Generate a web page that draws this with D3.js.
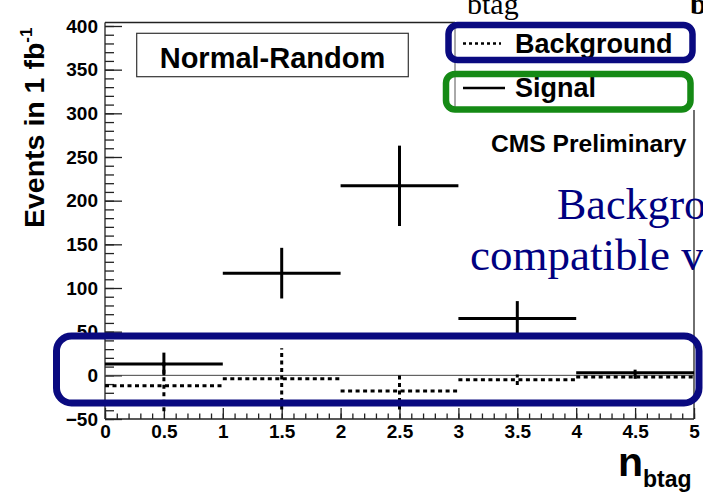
<!DOCTYPE html>
<html lang="en">
<head>
<meta charset="utf-8">
<title>n_btag Normal-Random</title>
<script src="https://d3js.org/d3.v7.min.js"></script>
<style>
  body { margin: 0; background: #fff; }
  svg { display: block; }
  .axis text { font-family: "Liberation Sans", Arial, sans-serif; font-weight: bold; font-size: 19px; fill: #000; }
  .axis path, .axis line { stroke: #222; stroke-width: 1.3px; }
  .sans { font-family: "Liberation Sans", Arial, sans-serif; font-weight: bold; }
  .serif { font-family: "Liberation Serif", "Times New Roman", serif; }
</style>
</head>
<body>
<script>
// histogram data (one cross per bin)
const binEdges = [0, 1, 2, 3, 4, 5];
const signalValues = [13, 117, 217, 65, 3];
const signalErrors = [13, 29, 46, 20, 3.5];
const backgroundValues = [-12, -4, -18, -5, -2];
const backgroundErrors = [29, 35, 21, 6, 2];

// axis ticks
const yTickValues = [-50, 0, 50, 100, 150, 200, 250, 300, 350, 400];
const xTickValues = [0, 0.5, 1, 1.5, 2, 2.5, 3, 3.5, 4, 4.5, 5];

const W = 703, H = 494;
const pLeft = 105, pRight = 694, pTop = 22.5, pBottom = 419;

const svg = d3.select("body").append("svg")
  .attr("width", W).attr("height", H);

const x = d3.scaleLinear().domain([0, 5]).range([pLeft, pRight]);
const y = d3.scaleLinear().domain([-50, 404]).range([pBottom, pTop]);

// minor ticks first
svg.append("g").attr("class", "axis")
  .attr("transform", `translate(${pLeft},0)`)
  .call(d3.axisLeft(y).tickValues(d3.range(-50, 401, 10)).tickSize(-9).tickFormat(""))
  .call(g => g.select(".domain").remove());
svg.append("g").attr("class", "axis")
  .attr("transform", `translate(0,${pBottom})`)
  .call(d3.axisBottom(x).tickValues(d3.range(0, 5.01, 0.1)).tickSize(-5.5).tickFormat(""))
  .call(g => g.select(".domain").remove());

// major ticks + labels
svg.append("g").attr("class", "axis")
  .attr("transform", `translate(${pLeft},0)`)
  .call(d3.axisLeft(y).tickValues(yTickValues).tickSize(-17).tickSizeOuter(0).tickPadding(7).tickFormat(d3.format("d")))
  .call(g => g.select(".domain").attr("d", `M0,${pBottom}V${pTop}`));
svg.append("g").attr("class", "axis")
  .attr("transform", `translate(0,${pBottom})`)
  .call(d3.axisBottom(x).tickValues(xTickValues).tickSize(-11).tickSizeOuter(0).tickPadding(5.5).tickFormat(d => d))
  .call(g => g.select(".domain").attr("d", `M${pLeft},0H${pRight}`));

// frame top / right (legend covers part of it)
svg.append("line").attr("x1", pLeft).attr("x2", 455).attr("y1", pTop).attr("y2", pTop)
  .attr("stroke", "#222").attr("stroke-width", 1.3);
svg.append("line").attr("x1", pRight).attr("x2", pRight).attr("y1", 110).attr("y2", pBottom)
  .attr("stroke", "#222").attr("stroke-width", 1.3);
svg.append("line").attr("x1", 455).attr("x2", 455).attr("y1", pTop).attr("y2", 110)
  .attr("stroke", "#555").attr("stroke-width", 1);

// zero line
svg.append("line").attr("x1", pLeft).attr("x2", pRight).attr("y1", y(0)).attr("y2", y(0))
  .attr("stroke", "#444").attr("stroke-width", 1);

// crosses
function drawCrosses(values, errors, dash, cls) {
  const bins = values.map((v, i) => ({ lo: binEdges[i], hi: binEdges[i + 1], v: v, e: errors[i] }));
  const g = svg.append("g").attr("class", cls)
    .attr("stroke", "#000").attr("stroke-width", 3).attr("fill", "none")
    .attr("stroke-dasharray", dash);
  g.selectAll("line.h").data(bins).join("line").attr("class", "h")
    .attr("x1", d => x(d.lo)).attr("x2", d => x(d.hi))
    .attr("y1", d => y(d.v)).attr("y2", d => y(d.v));
  g.selectAll("line.v").data(bins).join("line").attr("class", "v")
    .attr("x1", d => x((d.lo + d.hi) / 2)).attr("x2", d => x((d.lo + d.hi) / 2))
    .attr("y1", d => y(d.v - d.e)).attr("y2", d => y(d.v + d.e));
}
drawCrosses(backgroundValues, backgroundErrors, "4,3.5", "background");
drawCrosses(signalValues, signalErrors, null, "signal");

// Normal-Random label box
svg.append("rect").attr("x", 136.7).attr("y", 33.3).attr("width", 271.6).attr("height", 43.4)
  .attr("fill", "#fff").attr("stroke", "#333").attr("stroke-width", 1.2);
svg.append("text").attr("class", "sans").attr("x", 272.5).attr("y", 68)
  .attr("text-anchor", "middle").attr("font-size", 29).text("Normal-Random");

// legend
svg.append("line").attr("x1", 463).attr("x2", 501).attr("y1", 43.5).attr("y2", 43.5)
  .attr("stroke", "#000").attr("stroke-width", 2.5).attr("stroke-dasharray", "3,3");
svg.append("text").attr("class", "sans").attr("x", 515).attr("y", 53).attr("font-size", 27).text("Background");
svg.append("line").attr("x1", 463).attr("x2", 505).attr("y1", 88).attr("y2", 88)
  .attr("stroke", "#000").attr("stroke-width", 2.5);
svg.append("text").attr("class", "sans").attr("x", 515).attr("y", 97).attr("font-size", 27).text("Signal");
svg.append("text").attr("class", "sans").attr("x", 491).attr("y", 151.5).attr("font-size", 24.6).text("CMS Preliminary");

// axis titles
const yt = svg.append("text").attr("class", "sans").attr("font-size", 28.5)
  .attr("transform", "translate(43.5,228) rotate(-90)");
yt.append("tspan").text("Events in 1 fb");
yt.append("tspan").attr("font-size", 17).attr("dy", -12).text("-1");

const xt = svg.append("text").attr("class", "sans").attr("x", 618).attr("y", 476).attr("font-size", 41);
xt.append("tspan").text("n");
xt.append("tspan").attr("font-size", 23).attr("dy", 11).text("btag");

// slide overlay text
svg.append("text").attr("class", "serif").attr("x", 467).attr("y", 14).attr("font-size", 30).text("btag");
svg.append("text").attr("class", "serif").attr("x", 690).attr("y", 14).attr("font-size", 30)
  .attr("font-weight", "bold").text("b");
svg.append("text").attr("class", "serif").attr("x", 557).attr("y", 219).attr("font-size", 44)
  .attr("fill", "#000080").text("Backgro");
svg.append("text").attr("class", "serif").attr("x", 470).attr("y", 270).attr("font-size", 45)
  .attr("fill", "#000080").text("compatible v");

// highlight boxes
svg.append("rect").attr("x", 56.5).attr("y", 336).attr("width", 642.5).attr("height", 67)
  .attr("rx", 15).attr("fill", "none").attr("stroke", "#0a0a80").attr("stroke-width", 7);
svg.append("rect").attr("x", 448.5).attr("y", 25).attr("width", 244).attr("height", 35)
  .attr("rx", 9).attr("fill", "none").attr("stroke", "#0a0a80").attr("stroke-width", 6.5);
svg.append("rect").attr("x", 446).attr("y", 74).attr("width", 244.5).attr("height", 35.5)
  .attr("rx", 9).attr("fill", "none").attr("stroke", "#158a15").attr("stroke-width", 6.5);
</script>
</body>
</html>
